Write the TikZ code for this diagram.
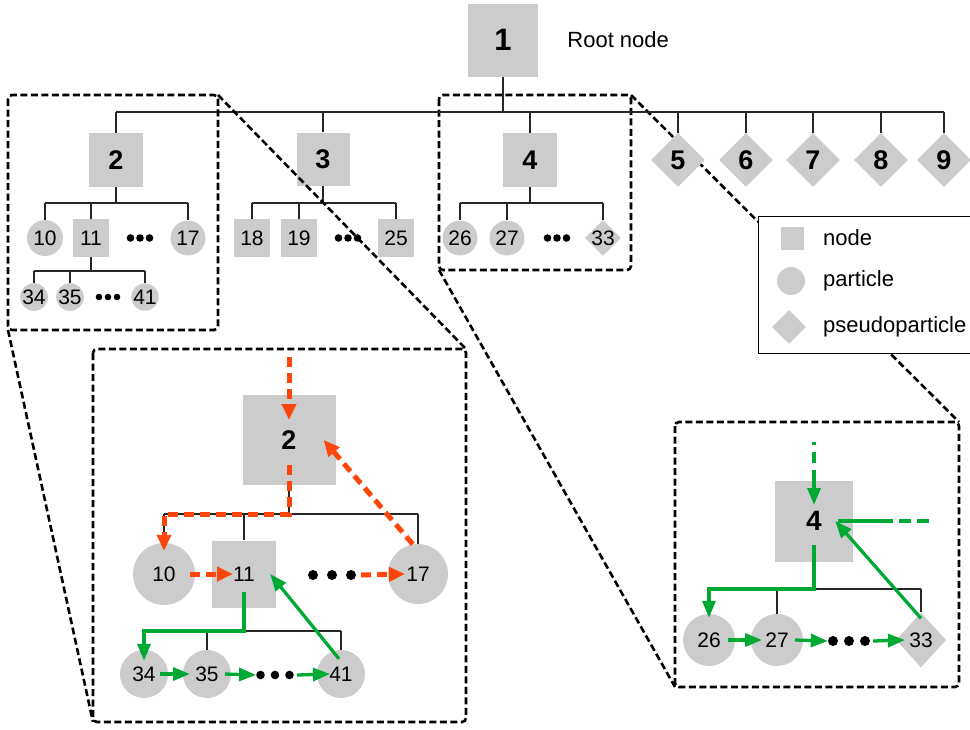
\documentclass[tikz,border=0pt]{standalone}
\usepackage{fontspec}
\setmainfont{Liberation Sans}
\usetikzlibrary{positioning,shapes.geometric,arrows.meta}

\definecolor{cellgray}{RGB}{204,204,204}
\definecolor{walkorange}{RGB}{255,70,10}
\definecolor{walkgreen}{RGB}{0,168,52}

\newcommand{\threedots}[2]{\tikz\foreach \k in {0,1,2} \fill (\k*#1,0) circle (#2);}

\tikzset{
  box/.style={fill=cellgray, inner sep=0pt, font=\fontsize{21}{24}\selectfont},
  cell/.style={box, rectangle, minimum width=#1, minimum height=#1},
  part/.style={box, circle, minimum size=#1},
  pseudo/.style={box, diamond, minimum width=#1, minimum height=#1},
  numbig/.style={font=\fontsize{#1}{#1}\selectfont\bfseries},
  dotrow/.style={inner sep=0pt},
  link/.style={draw=black!85, line width=1.6pt},
  zoombox/.style={draw=black, line width=2.6pt, dash pattern=on 7pt off 3.5pt, rounded corners=4pt},
  zoomline/.style={draw=black, line width=2.6pt, dash pattern=on 7pt off 3.5pt},
  legtext/.style={anchor=west, inner sep=0pt, font=\fontsize{22}{26}\selectfont},
  ormove/.style={draw=walkorange, line width=5pt, dash pattern=on 10pt off 6pt, -{Triangle[length=16pt,width=14pt]}},
  grmove/.style={draw=walkgreen, line width=3.3pt, -{Triangle[length=17pt,width=13pt]}},
  grline/.style={draw=walkgreen, line width=3.3pt},
}

\begin{document}
\begin{tikzpicture}[x=1pt,y=-1pt]
	\useasboundingbox (0,0) rectangle (970,729);
	
	% Zoom frames
	\coordinate (f2a) at (8,95);    \coordinate (f2b) at (218,330);
	\coordinate (f4a) at (439,95);  \coordinate (f4b) at (631,270);
	\coordinate (g2a) at (93,349);  \coordinate (g2b) at (466,722);
	\coordinate (g4a) at (675,422); \coordinate (g4b) at (959,687);
	
	\draw[zoombox] (f4a) rectangle (f4b);
	\draw[zoomline] (f4b |- f4a) -- (g4b |- g4a);
	\draw[zoomline] (f4a |- f4b) -- (g4a |- g4b);
	
	% Root
	\node[cell=70, minimum height=73, numbig=31] (n1) at (503,40) {1};
	\node[legtext, right=29pt of n1] (rootlbl) {Root node};
	
	% Level 1
	\coordinate (bus1) at (0,112);
	\node[cell=54, numbig=27] (n2) at (116,160) {2};
	\node[cell=53, numbig=27] (n3) at (323,159) {3};
	\node[cell=54, numbig=27] (n4) at (530,160) {4};
	\foreach \i/\x in {5/678,6/746,7/813,8/881,9/944}
		\node[pseudo=54, numbig=27] (n\i) at (\x,160) {\i};
	\draw[link] (n1.south) -- (n1.south |- bus1);
	\draw[link] (n2.north |- bus1) -- (n9.north |- bus1);
	\foreach \c in {n2,n3,n4,n5,n6,n7,n8,n9}
		\draw[link] (\c.north |- bus1) -- (\c.north);
	
	% Children of 2
	\coordinate (bus2) at (0,203);
	\node[part=36] (c10) at (45,238) {10};
	\node[cell=36, minimum height=38] (c11) at (91,238) {11};
	\node[dotrow] (d2) at (140,238) {\threedots{9.5pt}{3.8pt}};
	\node[part=35] (c17) at (188,238) {17};
	\draw[link] (n2.south) -- (n2.south |- bus2);
	\draw[link] (c10.north |- bus2) -- (c17.north |- bus2);
	\foreach \c in {c10,c11,c17}
		\draw[link] (\c.north |- bus2) -- (\c.north);
	
	% Children of 11
	\coordinate (bus11) at (0,271);
	\node[part=26] (c34) at (34,297) {34};
	\node[part=26] (c35) at (70,297) {35};
	\node[dotrow] (d11) at (108,297) {\threedots{9pt}{3.3pt}};
	\node[part=26] (c41) at (145,297) {41};
	\draw[link] (c11.south) -- (c11.south |- bus11);
	\draw[link] (c34.north |- bus11) -- (c41.north |- bus11);
	\foreach \c in {c34,c35,c41}
		\draw[link] (\c.north |- bus11) -- (\c.north);
	
	% Children of 3
	\node[cell=36, minimum height=38] (c18) at (252,238) {18};
	\node[cell=36, minimum height=38] (c19) at (299,238) {19};
	\node[dotrow] (d3) at (348,238) {\threedots{9.5pt}{3.8pt}};
	\node[cell=36, minimum height=38] (c25) at (396,238) {25};
	\draw[link] (n3.south) -- (n3.south |- bus2);
	\draw[link] (c18.north |- bus2) -- (c25.north |- bus2);
	\foreach \c in {c18,c19,c25}
		\draw[link] (\c.north |- bus2) -- (\c.north);
	
	% Children of 4
	\node[part=35] (c26) at (460,238) {26};
	\node[part=35] (c27) at (507,238) {27};
	\node[dotrow] (d4) at (557,238) {\threedots{9.5pt}{3.8pt}};
	\node[pseudo=36, inner sep=-4pt] (c33) at (603,238) {33};
	\draw[link] (n4.south) -- (n4.south |- bus2);
	\draw[link] (c26.north |- bus2) -- (c33.north |- bus2);
	\foreach \c in {c26,c27,c33}
		\draw[link] (\c.north |- bus2) -- (\c.north);
	
	% Frame of subtree 2
	\draw[zoombox] (f2a) rectangle (f2b);
	\draw[zoomline] (f2b |- f2a) -- (g2b |- g2a);
	\draw[zoomline] (f2a |- f2b) -- (g2a |- g2b);
	\draw[zoombox] (g2a) rectangle (g2b);
	\draw[zoombox] (g4a) rectangle (g4b);
	
	% Legend
	\node[draw=black, line width=1.4pt, fill=white, minimum width=228, minimum height=137,
		anchor=north west, inner sep=0pt] (legend) at (758,216) {};
	\node[cell=23] (lgnode) at (792,238) {};
	\node[legtext] (lgnodet) at (823,238) {node};
	\node[part=28] (lgpart) at (791,281) {};
	\node[legtext] (lgpartt) at (823,281) {particle};
	\node[pseudo=34] (lgpseudo) at (789,327) {};
	\node[legtext] (lgpseudot) at (823,327) {pseudoparticle};
	
	% Zoom of subtree 2
	\node[cell=90, minimum width=93, numbig=27] (b2) at (289,440) {2};
	\coordinate (in2) at (289,357);
	\coordinate (bus2b) at (0,514);
	\node[part=62] (b10) at (164,574) {10};
	\node[cell=64, minimum height=67] (b11) at (244,574) {11};
	\node[dotrow] (db) at (332,575) {\threedots{19pt}{5pt}};
	\node[part=60] (b17) at (418,574) {17};
	\draw[link] (b2.south) -- (b2.south |- bus2b);
	\draw[link] (b10.north |- bus2b) -- (b17.north |- bus2b);
	\foreach \c in {b10,b11,b17}
		\draw[link] (\c.north |- bus2b) -- (\c.north);
	
	\coordinate (bus11b) at (0,631);
	\node[part=48] (b34) at (144,674) {34};
	\node[part=48] (b35) at (207,674) {35};
	\node[dotrow] (db11) at (275,675) {\threedots{14.5pt}{4.3pt}};
	\node[part=48] (b41) at (341,674) {41};
	\draw[link] (b11.south) -- (b11.south |- bus11b);
	\draw[link] (b34.north |- bus11b) -- (b41.north |- bus11b);
	\foreach \c in {b34,b35,b41}
		\draw[link] (\c.north |- bus11b) -- (\c.north);
	
	% Orange walk
	\draw[ormove] (in2) -- ([yshift=20pt]b2.center);
	\draw[ormove] ([yshift=-25pt]b2.center) -- (b2.center |- bus2b) -| ([yshift=-8pt]b10.north);
	\draw[ormove] ([xshift=26pt]b10.center) -- ([xshift=-11pt]b11.center);
	\draw[ormove] ([xshift=5pt]db.east) -- ([xshift=-13pt]b17.center);
	\draw[ormove] (b17.100) -- ([xshift=-12pt]b2.east);
	
	% Green walk below 11
	\draw[grmove] ([yshift=-18pt]b11.center) -- (b11.center |- bus11b) -| ([yshift=-11pt]b34.north);
	\draw[grmove] ([xshift=16pt]b34.center) -- ([xshift=-17pt]b35.center);
	\draw[grmove] ([xshift=18pt]b35.center) -- (db11.west);
	\draw[grmove] ([xshift=3pt]db11.east) -- ([xshift=-11pt]b41.center);
	\draw[grmove] ([xshift=-2pt,yshift=-9pt]b41.north) -- ([xshift=-6pt]b11.east);
	
	% Zoom of subtree 4
	\node[cell=78, minimum height=81, numbig=28] (r4) at (814,521) {4};
	\coordinate (bus4) at (0,589);
	\node[part=52] (r26) at (709,640) {26};
	\node[part=52] (r27) at (777,640) {27};
	\node[dotrow] (dr) at (849,641) {\threedots{16pt}{5pt}};
	\node[pseudo=50, minimum height=55] (r33) at (921,640) {33};
	\draw[link] (r4.south) -- (r4.south |- bus4);
	\draw[link] (r26.north |- bus4) -- (r33.north |- bus4);
	\foreach \c in {r26,r27,r33}
		\draw[link] (\c.north |- bus4) -- (\c.north);
	
	% Green walk in 4
	\coordinate (in4) at (814,442);
	\coordinate (in4b) at (814,470);
	\draw[grline, dash pattern=on 3pt off 7pt on 11pt off 7pt] (in4) -- (in4b);
	\draw[grmove] (in4b) -- ([yshift=16pt]r4.center);
	\coordinate (out4) at (930,521);
	\coordinate (out4b) at (893,521);
	\draw[grline] ([xshift=-15pt]r4.east) -- (out4b);
	\draw[grline, dash pattern=on 12pt off 6pt] ([xshift=6pt]out4b) -- (out4);
	\draw[grmove] ([yshift=-24pt]r4.center) -- (r4.center |- bus4) -| ([yshift=-4pt]r26.north);
	\draw[grmove] ([xshift=19pt]r26.center) -- ([xshift=-15pt]r27.center);
	\draw[grmove] ([xshift=18pt]r27.center) -- (dr.west);
	\draw[grmove] ([xshift=3pt]dr.east) -- ([xshift=-16pt]r33.center);
	\draw[grmove] ([yshift=-6pt]r33.north) -- ([xshift=-18pt]r4.east);
\end{tikzpicture}
\end{document}
